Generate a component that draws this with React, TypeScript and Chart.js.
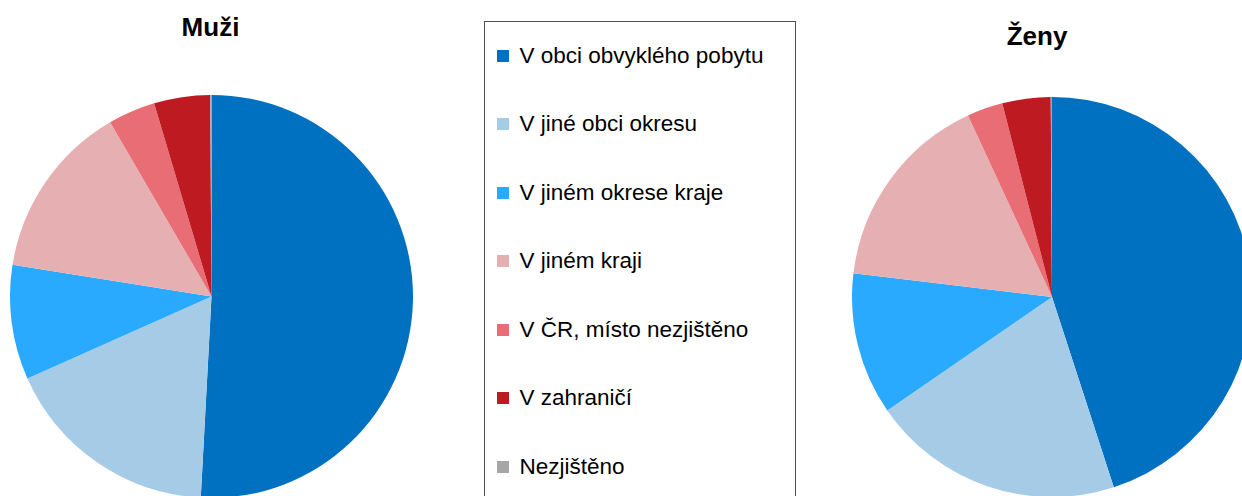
import React, { useEffect, useRef } from "react";
import { Chart, registerables } from "chart.js";

Chart.register(...registerables);

const categories = [
  "V obci obvyklého pobytu",
  "V jiné obci okresu",
  "V jiném okrese kraje",
  "V jiném kraji",
  "V ČR, místo nezjištěno",
  "V zahraničí",
  "Nezjištěno",
];
const sliceColors = ["#0070C0", "#A6CBE6", "#2AAAFF", "#E6B0B3", "#E96D74", "#BD1A22", "#A6A6A6"];
const muziValues = [50.9, 17.5, 9.2, 14.1, 3.8, 4.5, 0.1];
const zenyValues = [45.0, 20.4, 11.5, 16.2, 2.9, 3.9, 0.1];
const chartTitles = ["Muži", "Ženy"];

const FONT = "'Liberation Sans', Arial, Helvetica, sans-serif";

function Pie(props: { values: number[]; left: number; top: number; size: number }) {
  const { values, left, top, size } = props;
  const ref = useRef<HTMLCanvasElement>(null);
  useEffect(() => {
    const chart = new Chart(ref.current as HTMLCanvasElement, {
      type: "pie",
      data: {
        labels: categories,
        datasets: [
          {
            data: values,
            backgroundColor: sliceColors,
            borderColor: sliceColors,
            borderWidth: 0,
          },
        ],
      },
      options: {
        responsive: false,
        animation: false,
        devicePixelRatio: 1,
        layout: { padding: 0 },
        plugins: { legend: { display: false }, tooltip: { enabled: false }, title: { display: false } },
      },
    });
    return () => chart.destroy();
  }, [values]);
  return (
    <canvas
      ref={ref}
      width={size}
      height={size}
      style={{ position: "absolute", left, top, width: size, height: size }}
    />
  );
}

function Title(props: { text: string; cx: number; top: number }) {
  return (
    <div
      style={{
        position: "absolute",
        left: props.cx - 100,
        top: props.top,
        width: 200,
        textAlign: "center",
        font: `bold 26px ${FONT}`,
        lineHeight: "26px",
        color: "#000",
        whiteSpace: "nowrap",
      }}
    >
      {props.text}
    </div>
  );
}

function Legend() {
  return (
    <div
      style={{
        position: "absolute",
        left: 484,
        top: 21,
        width: 312,
        height: 520,
        boxSizing: "border-box",
        border: "1.5px solid #505050",
        background: "#fff",
      }}
    >
      <div style={{ marginTop: -0.5 }}>
        {categories.map((c, i) => (
          <div
            key={c}
            style={{ height: 68.5, display: "flex", alignItems: "center", paddingLeft: 11.5 }}
          >
            <div style={{ width: 12, height: 12, background: sliceColors[i], flex: "0 0 auto" }} />
            <div
              style={{
                marginLeft: 11,
                font: `22.5px ${FONT}`,
                lineHeight: "26px",
                color: "#000",
                whiteSpace: "nowrap",
              }}
            >
              {c}
            </div>
          </div>
        ))}
      </div>
    </div>
  );
}

export default function App() {
  return (
    <div
      style={{
        position: "absolute",
        left: 0,
        top: 0,
        width: 1242,
        height: 496,
        overflow: "hidden",
        background: "#fff",
      }}
    >
      <Title text={chartTitles[0]} cx={210.5} top={13.5} />
      <Pie values={muziValues} left={10} top={95} size={403} />
      <Legend />
      <Title text={chartTitles[1]} cx={1037} top={23} />
      <Pie values={zenyValues} left={852} top={97} size={400} />
    </div>
  );
}
